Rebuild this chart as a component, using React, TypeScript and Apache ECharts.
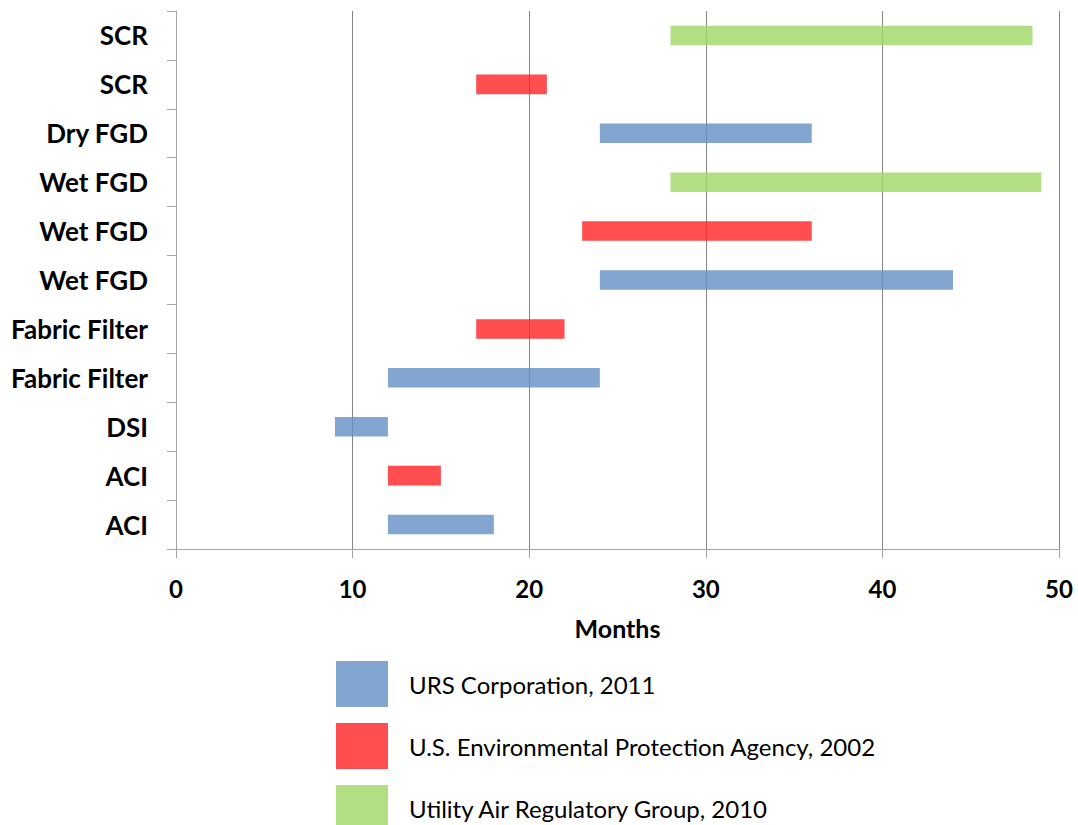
import React, { useEffect, useRef } from "react";
import * as echarts from "echarts";

// Rows, listed top to bottom
const tasks = [
  "SCR",
  "SCR",
  "Dry FGD",
  "Wet FGD",
  "Wet FGD",
  "Wet FGD",
  "Fabric Filter",
  "Fabric Filter",
  "DSI",
  "ACI",
  "ACI",
];
// Which study each row comes from (index into sourceNames)
const rowSource = [2, 1, 0, 2, 1, 0, 1, 0, 0, 1, 0];
const startMonth = [28, 17, 24, 28, 23, 24, 17, 12, 9, 12, 12];
const endMonth = [48.5, 21, 36, 49, 36, 44, 22, 24, 12, 15, 18];

const sourceNames = [
  "URS Corporation, 2011",
  "U.S. Environmental Protection Agency, 2002",
  "Utility Air Regulatory Group, 2010",
];
// Swatch colours as they appear on white
const sourceColors = ["#82A6D0", "#FF4D50", "#B2DF84"];
// Bar fills drawn at 80% opacity so the gridlines show through
const barFills = ["#6390C4", "#FF2124", "#9FD765"];

const xTicks = { min: 0, max: 50, step: 10 };

const FONT = "Lato, 'Open Sans', sans-serif";

// The chart canvas runs a little past the visible frame so the last
// legend swatch keeps its full size and is simply cut at the bottom edge.
const VIEW_W = 1078;
const VIEW_H = 825;
const CHART_H = 860;

export default function App() {
  const ref = useRef<HTMLDivElement>(null);

  useEffect(() => {
    if (!ref.current) return;
    const chart = echarts.init(ref.current, null, { renderer: "svg" });

    const offsetSeries = {
      name: "offset",
      type: "bar",
      stack: "span",
      silent: true,
      barWidth: "40%",
      itemStyle: { color: "transparent" },
      emphasis: { disabled: true },
      data: startMonth.slice(),
    };

    const spanSeries = sourceNames.map((name, s) => ({
      name,
      type: "bar",
      stack: "span",
      barWidth: "40%",
      itemStyle: { color: barFills[s], opacity: 0.8 },
      data: tasks.map((_, i) =>
        rowSource[i] === s ? endMonth[i] - startMonth[i] : "-"
      ),
    }));

    chart.setOption({
      animation: false,
      backgroundColor: "#ffffff",
      textStyle: { fontFamily: FONT },
      grid: {
        left: 176,
        right: 19,
        top: 11,
        bottom: CHART_H - 549,
        outerBoundsMode: "none",
      },
      legend: {
        orient: "vertical",
        left: 336,
        top: 661,
        padding: 0,
        itemWidth: 52,
        itemHeight: 46,
        itemGap: 16,
        icon: "rect",
        selectedMode: false,
        textStyle: {
          fontFamily: FONT,
          fontSize: 24,
          color: "#000000",
          padding: [0, 0, 0, 16],
        },
        data: sourceNames.map((name, s) => ({
          name,
          itemStyle: { color: sourceColors[s], opacity: 1 },
        })),
      },
      xAxis: {
        type: "value",
        min: xTicks.min,
        max: xTicks.max,
        interval: xTicks.step,
        name: "Months",
        nameLocation: "middle",
        nameGap: 66,
        nameTextStyle: {
          fontFamily: FONT,
          fontSize: 25,
          fontWeight: "bold",
          color: "#000000",
        },
        axisLine: { show: true, lineStyle: { color: "#a6a6a6", width: 1 } },
        axisTick: { show: true, length: 9, lineStyle: { color: "#a6a6a6" } },
        axisLabel: {
          fontFamily: FONT,
          fontSize: 24,
          fontWeight: "bold",
          color: "#000000",
          margin: 27,
        },
        splitLine: { show: true, lineStyle: { color: "#868686", width: 1 } },
      },
      yAxis: {
        type: "category",
        inverse: true,
        data: tasks,
        axisLine: { show: true, lineStyle: { color: "#a6a6a6", width: 1 } },
        axisTick: { show: true, length: 9, lineStyle: { color: "#a6a6a6" } },
        axisLabel: {
          fontFamily: FONT,
          fontSize: 26,
          fontWeight: "bold",
          color: "#000000",
          margin: 28,
        },
        splitLine: { show: false },
      },
      series: [offsetSeries, ...spanSeries],
    });

    return () => chart.dispose();
  }, []);

  return (
    <div
      style={{
        position: "absolute",
        left: 0,
        top: 0,
        width: VIEW_W,
        height: VIEW_H,
        overflow: "hidden",
      }}
    >
      <div ref={ref} style={{ width: VIEW_W, height: CHART_H }} />
    </div>
  );
}
